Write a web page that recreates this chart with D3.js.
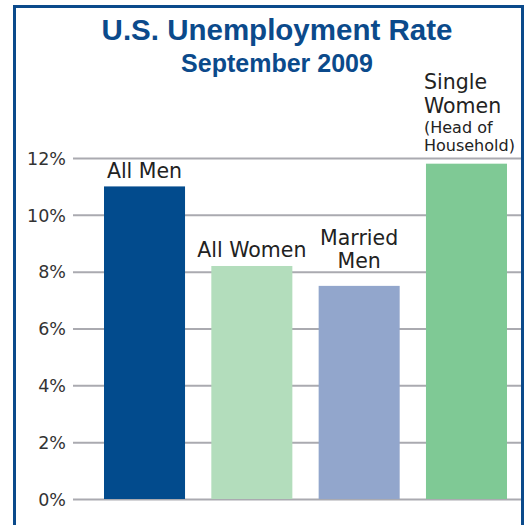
<!DOCTYPE html>
<html>
<head>
<meta charset="utf-8">
<title>U.S. Unemployment Rate</title>
<script src="https://d3js.org/d3.v7.min.js"></script>
<style>
body { margin: 0; background: #fff; }
.frame { fill: none; stroke: #0b4a8b; stroke-width: 3px; }
.title { font-family: "Liberation Sans", Arial, sans-serif; font-weight: bold; fill: #0b4a8b; }
.axis text { font-family: "DejaVu Sans", sans-serif; font-size: 17.5px; fill: #333; }
.axis line { stroke: #aaaab0; stroke-width: 2px; }
.lbl { font-family: "DejaVu Sans", sans-serif; fill: #222; }
</style>
</head>
<body>
<script>
// values
var categories = ["All Men", "All Women", "Married Men", "Single Women"];
var rates = [11.0, 8.2, 7.5, 11.8];
var labelLines = [["All Men"], ["All Women"], ["Married", "Men"], ["Single", "Women", "(Head of", "Household)"]];
var yTicks = [0, 2, 4, 6, 8, 10, 12];
var colors = ["#024b8d", "#b3ddbc", "#92a6cc", "#7fc995"];

var width = 527, height = 525;

var svg = d3.select("body").append("svg")
  .attr("width", width)
  .attr("height", height);

svg.append("rect").attr("class", "frame")
  .attr("x", 14.5).attr("y", 6.5)
  .attr("width", 508).attr("height", 530);

svg.append("text").attr("class", "title")
  .attr("x", 277).attr("y", 40)
  .attr("text-anchor", "middle")
  .style("font-size", "29.5px")
  .text("U.S. Unemployment Rate");
svg.append("text").attr("class", "title")
  .attr("x", 277).attr("y", 72)
  .attr("text-anchor", "middle")
  .style("font-size", "25px")
  .text("September 2009");

var gridLeft = 73, gridRight = 521;

var y = d3.scaleLinear().domain([0, 12]).range([499, 158]);
var x = d3.scaleBand().domain(categories).range([104, 507])
  .paddingInner(0.245).paddingOuter(0);

var axis = svg.append("g").attr("class", "axis")
  .attr("transform", "translate(" + gridLeft + ",0)")
  .call(d3.axisLeft(y).tickValues(yTicks)
    .tickSize(-(gridRight - gridLeft))
    .tickPadding(7)
    .tickFormat(function(d) { return d + "%"; }));
axis.select(".domain").remove();
axis.selectAll("text").attr("dy", "0.36em");

svg.selectAll(".bar")
  .data(rates)
  .enter().append("rect")
  .attr("class", "bar")
  .attr("x", function(d, i) { return x(categories[i]); })
  .attr("y", function(d) { return y(d); })
  .attr("width", x.bandwidth())
  .attr("height", function(d) { return y(0) - y(d); })
  .attr("fill", function(d, i) { return colors[i]; });

// label styling: gap above bar, line heights, alignment
var gaps = [8, 9, 18, 13];
var sizes = [[20.5], [20.5], [20.5, 20.5], [20.5, 20.5, 16, 16]];
var leads = [[0], [0], [0, 23], [0, 24, 20, 18]];

categories.forEach(function(c, i) {
  var lines = labelLines[i];
  var offs = [];
  var acc = 0;
  for (var k = 0; k < lines.length; k++) { acc += leads[i][k]; offs.push(acc); }
  var last = offs[offs.length - 1];
  var left = i === 3;
  lines.forEach(function(t, k) {
    svg.append("text").attr("class", "lbl")
      .attr("x", left ? x(c) - 2 : x(c) + x.bandwidth() / 2)
      .attr("y", y(rates[i]) - gaps[i] - (last - offs[k]))
      .attr("text-anchor", left ? "start" : "middle")
      .style("font-size", sizes[i][k] + "px")
      .text(t);
  });
});
</script>
</body>
</html>
